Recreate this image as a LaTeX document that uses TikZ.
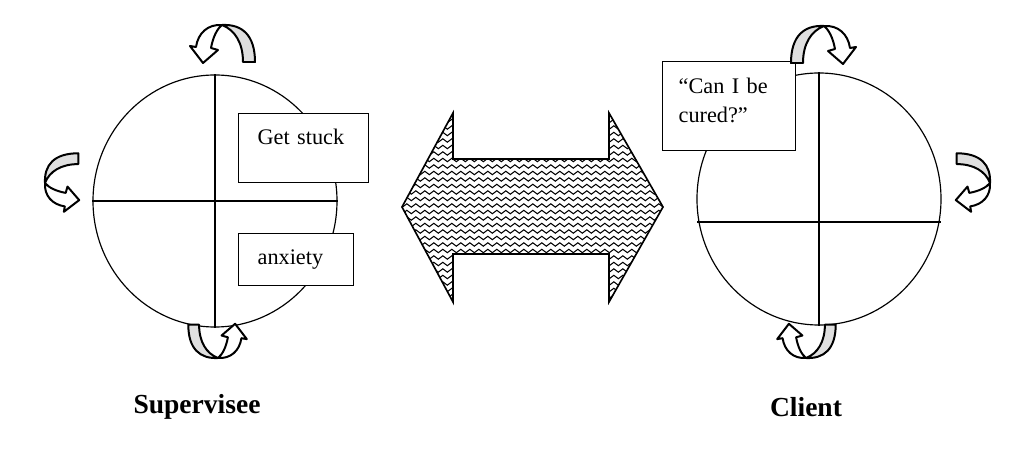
\documentclass[tikz,border=0pt]{standalone}
\usepackage{fontspec}
\setmainfont{Liberation Serif}
\usetikzlibrary{shapes.geometric,decorations.pathmorphing}

\tikzset{
  wheel/.style={ellipse, draw, line width=1pt, minimum width=7.32cm, minimum height=7.56cm, inner sep=0pt},
  quarter/.style={line width=1pt},
  notebox/.style={draw, fill=white, line width=1.1pt, anchor=north west, align=left,
    inner ysep=0pt, font=\fontsize{19}{24}\selectfont},
  sidelabel/.style={font=\fontsize{23.5}{27}\selectfont\bfseries},
  wave/.style={line width=0.9pt, decorate, decoration={snake, segment length=0.27cm, amplitude=0.05cm}},
  ribbon/.style={line width=1.7pt, line join=round}
}
% twisted ribbon arrow, apex at origin
\newcommand{\twistarrow}{%
  \filldraw[ribbon, fill=gray!25] (0,0) .. controls (20,-1) and (33,10) .. (33,37) -- (21,37)
    .. controls (21,18) and (13,5) .. (0,0) -- cycle;
  \filldraw[ribbon, fill=white] (0,0) .. controls (-14,-1) and (-24,8) .. (-26,22) -- (-32,21)
    -- (-19,38) -- (-4,25) -- (-11,23) .. controls (-9,12) and (-5,4) .. (0,0) -- cycle;
}

\begin{document}
\begin{tikzpicture}[x=0.03cm, y=-0.03cm]
  \useasboundingbox (0,0) rectangle (1024,457);

  % Supervisee circle
  \node[wheel] (supwheel) at (215,201) {};
  \draw[quarter] (supwheel.north) -- (supwheel.south);
  \draw[quarter] (supwheel.west) -- (supwheel.east);
  \node[notebox, minimum width=3.9cm, minimum height=2.07cm, text width=2.76cm, inner xsep=0.57cm, text depth=20pt]
    (stuck) at (238,113) {Get stuck};
  \node[notebox, minimum width=3.45cm, minimum height=1.56cm, text width=2.31cm, inner xsep=0.57cm]
    (anxiety) at (238,233) {anxiety};
  \node[sidelabel] (suplabel) at (197,407) {Supervisee};

  % Client circle
  \node[wheel] (cliwheel) at (819,199) {};
  \coordinate (cliwest) at (697,222);
  \coordinate (clieast) at (941,222);
  \draw[quarter] (cliwheel.north) -- (cliwheel.south);
  \draw[quarter] (cliwest) -- (clieast);
  \node[notebox, minimum width=3.99cm, minimum height=2.67cm, text width=3.03cm, inner xsep=0.48cm, text depth=34pt]
    (cured) at (662,61) {\makebox[2.85cm][s]{“Can I be}\\cured?”};
  \node[sidelabel] (clilabel) at (806,407) {Client};

  % Turning arrows
  \begin{scope}[shift={(222,25)}] \twistarrow \end{scope}
  \begin{scope}[shift={(45,183)}, rotate=90, scale=0.9] \twistarrow \end{scope}
  \begin{scope}[shift={(218,358)}, rotate=180, scale=0.9] \twistarrow \end{scope}
  \begin{scope}[shift={(824,26)}, xscale=-1] \twistarrow \end{scope}
  \begin{scope}[shift={(990,183)}, xscale=-1, rotate=90, scale=0.9] \twistarrow \end{scope}
  \begin{scope}[shift={(806,358)}, xscale=-1, rotate=180, scale=0.9] \twistarrow \end{scope}

  % Double arrow between them
  \coordinate (ltip) at (402,207);
  \coordinate (rtip) at (663,207);
  \begin{scope}
    \clip (ltip) -- (453,113) -- (453,159) -- (609,159) -- (609,113) -- (rtip)
      -- (609,302) -- (609,254) -- (453,254) -- (453,302) -- cycle;
    \foreach \y in {108,114.5,...,308} \draw[wave] (395,\y) -- (670,\y);
  \end{scope}
  \draw[line width=1.4pt, line join=miter] (ltip) -- (453,113) -- (453,159) -- (609,159) -- (609,113) -- (rtip)
    -- (609,302) -- (609,254) -- (453,254) -- (453,302) -- cycle;
\end{tikzpicture}
\end{document}
